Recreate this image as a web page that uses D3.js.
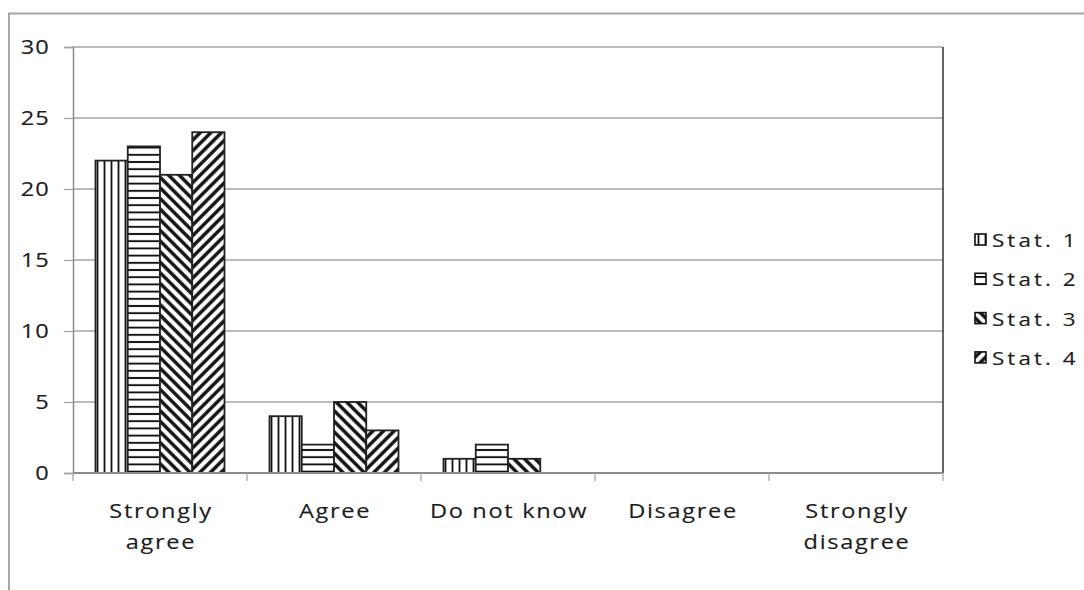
<!DOCTYPE html>
<html>
<head>
<meta charset="utf-8">
<script src="https://cdn.jsdelivr.net/npm/d3@7"></script>
<style>
  html, body { margin: 0; padding: 0; background: #fff; }
  svg text { font-family: "Open Sans", "Noto Sans", sans-serif; fill: #1c1c1c; stroke: #1c1c1c; stroke-width: 0.15px; }
</style>
</head>
<body>
<svg id="chart" width="1084" height="590"></svg>
<script>
// Response categories along the x axis
const categories = ["Strongly agree", "Agree", "Do not know", "Disagree", "Strongly disagree"];
// Series names
const seriesNames = ["Stat. 1", "Stat. 2", "Stat. 3", "Stat. 4"];
// Counts per category, one array per series
const stat1 = [22, 4, 1, 0, 0];
const stat2 = [23, 2, 2, 0, 0];
const stat3 = [21, 5, 1, 0, 0];
const stat4 = [24, 3, 0, 0, 0];
const seriesValues = [stat1, stat2, stat3, stat4];
// Y axis ticks
const yTicks = [0, 5, 10, 15, 20, 25, 30];

const svg = d3.select("#chart");
const plot = { left: 73, top: 47, right: 943, bottom: 473 };
const stretch = 1.18; // horizontal stretch applied to all labels

// Hatch patterns for each series
const defs = svg.append("defs");
function linePattern(id, period, stroke, angle) {
  const p = defs.append("pattern")
    .attr("id", id)
    .attr("patternUnits", "userSpaceOnUse")
    .attr("width", period).attr("height", period);
  if (angle) p.attr("patternTransform", `rotate(${angle})`);
  p.append("rect").attr("width", period).attr("height", period).attr("fill", "#fff");
  p.append("rect")
    .attr("x", (period - stroke) / 2).attr("y", 0)
    .attr("width", stroke).attr("height", period)
    .attr("fill", "#111");
}
linePattern("pat-vert", 7, 1.8, 0);
linePattern("pat-horiz", 7.2, 1.9, 90);
linePattern("pat-back", 7.5, 3.4, -45);
linePattern("pat-fwd", 7.5, 3.4, 45);
const fills = ["url(#pat-vert)", "url(#pat-horiz)", "url(#pat-back)", "url(#pat-fwd)"];

// Outer chart frame
svg.append("path")
  .attr("d", "M9,590 V13.5 H1084")
  .attr("fill", "none").attr("stroke", "#a6a6a6").attr("stroke-width", 2);

// Scales
const x0 = d3.scaleBand().domain(categories).range([plot.left, plot.right]);
const x1 = d3.scaleBand().domain(seriesNames).range([22.5, x0.bandwidth() - 22.5]);
const y = d3.scaleLinear().domain([0, 30]).range([plot.bottom, plot.top]);

// Horizontal gridlines
svg.append("g").selectAll("line").data(yTicks.filter(t => t > 0)).join("line")
  .attr("x1", plot.left).attr("x2", plot.right)
  .attr("y1", d => y(d)).attr("y2", d => y(d))
  .attr("stroke", "#a6a6a6").attr("stroke-width", 1.3);

// Right border of the plot area
svg.append("line")
  .attr("x1", plot.right).attr("x2", plot.right)
  .attr("y1", plot.top).attr("y2", plot.bottom)
  .attr("stroke", "#333").attr("stroke-width", 1.5);

// Y axis line and ticks
const yAxis = svg.append("g")
  .attr("transform", `translate(${plot.left},0)`)
  .call(d3.axisLeft(y).tickValues(yTicks).tickSize(9).tickFormat(""));
yAxis.select(".domain").attr("stroke", "#8c8c8c").attr("stroke-width", 1.5);
yAxis.selectAll(".tick line").attr("stroke", "#a6a6a6").attr("stroke-width", 1.3);

// Y tick labels
svg.append("g").selectAll("text").data(yTicks).join("text")
  .attr("transform", d => `translate(50,${y(d) + 7}) scale(${stretch},1)`)
  .attr("text-anchor", "end")
  .attr("font-size", 20)
  .attr("letter-spacing", 1)
  .text(d => d3.format("d")(d));

// Bars
const groups = svg.append("g").selectAll("g").data(categories).join("g")
  .attr("transform", d => `translate(${x0(d)},0)`);
groups.selectAll("rect")
  .data((c, i) => seriesNames.map((s, k) => ({ s, k, v: seriesValues[k][i] })).filter(d => d.v > 0))
  .join("rect")
  .attr("x", d => x1(d.s))
  .attr("y", d => y(d.v))
  .attr("width", x1.bandwidth())
  .attr("height", d => y(0) - y(d.v))
  .attr("fill", d => fills[d.k])
  .attr("stroke", "#222").attr("stroke-width", 1.8);

// X axis baseline and tick marks
const xAxis = svg.append("g").attr("transform", `translate(0,${plot.bottom})`);
xAxis.append("line")
  .attr("x1", plot.left).attr("x2", plot.right)
  .attr("stroke", "#8c8c8c").attr("stroke-width", 2);
const tickXs = categories.map(c => x0(c)).concat([plot.right]);
xAxis.selectAll("line.tk").data(tickXs).join("line").attr("class", "tk")
  .attr("x1", d => d).attr("x2", d => d).attr("y1", 0).attr("y2", 8)
  .attr("stroke", "#a6a6a6").attr("stroke-width", 1.3);

// Category labels (two-word "Strongly" labels wrap onto a second line)
const labelLines = categories.map(c => c.startsWith("Strongly") ? ["Strongly", c.slice(9)] : [c]);
xAxis.selectAll("text.cat").data(categories).join("text").attr("class", "cat")
  .attr("transform", d => `translate(${x0(d) + x0.bandwidth() / 2 + 1},45) scale(${stretch},1)`)
  .attr("text-anchor", "middle")
  .attr("font-size", 20)
  .attr("letter-spacing", 1.4)
  .each(function (d, i) {
    d3.select(this).selectAll("tspan").data(labelLines[i]).join("tspan")
      .attr("x", 0)
      .attr("dy", (t, j) => j === 0 ? 0 : 31)
      .text(t => t);
  });

// Legend
const legend = svg.append("g").attr("transform", "translate(975,234)");
const items = legend.selectAll("g").data(seriesNames).join("g")
  .attr("transform", (d, i) => `translate(0,${i * 39.3})`);
items.append("rect")
  .attr("width", 11).attr("height", 11)
  .attr("fill", (d, i) => fills[i])
  .attr("stroke", "#111").attr("stroke-width", 1.6);
items.append("text")
  .attr("transform", `translate(17,13) scale(${stretch},1)`)
  .attr("font-size", 19)
  .attr("letter-spacing", 2.6)
  .text(d => d);
</script>
</body>
</html>
